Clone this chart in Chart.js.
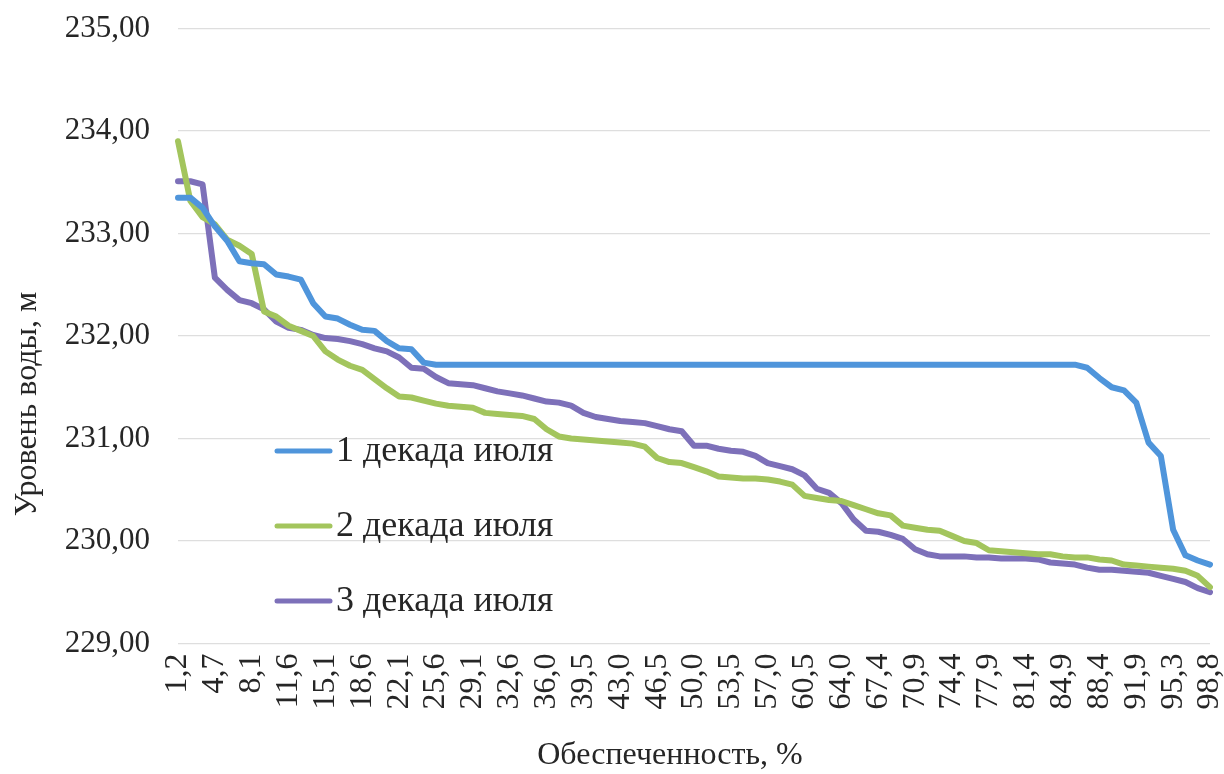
<!DOCTYPE html>
<html lang="ru">
<head>
<meta charset="utf-8">
<title>Уровень воды — кривые обеспеченности, июль</title>
<script src="https://cdn.jsdelivr.net/npm/chart.js@4.4.1/dist/chart.umd.min.js"></script>
<style>
  html, body { margin: 0; padding: 0; background: #ffffff; }
  #wrap { width: 1224px; height: 774px; }
</style>
</head>
<body>
<div id="wrap"><canvas id="chart" width="1224" height="774"></canvas></div>
<script>
// Обеспеченность, % (p = m / (n + 1) · 100, n = 85)
const categories = [
  "1,2","2,3","3,5","4,7","5,8","7,0","8,1","9,3","10,5","11,6",
  "12,8","14,0","15,1","16,3","17,4","18,6","19,8","20,9","22,1","23,3",
  "24,4","25,6","26,7","27,9","29,1","30,2","31,4","32,6","33,7","34,9",
  "36,0","37,2","38,4","39,5","40,7","41,9","43,0","44,2","45,3","46,5",
  "47,7","48,8","50,0","51,2","52,3","53,5","54,7","55,8","57,0","58,1",
  "59,3","60,5","61,6","62,8","64,0","65,1","66,3","67,4","68,6","69,8",
  "70,9","72,1","73,3","74,4","75,6","76,7","77,9","79,1","80,2","81,4",
  "82,6","83,7","84,9","86,0","87,2","88,4","89,5","90,7","91,9","93,0",
  "94,2","95,3","96,5","97,7","98,8"
];

// Уровень воды, м — 1 декада июля
const decade1 = [
  233.35,233.35,233.25,233.07,232.93,232.73,232.71,232.70,232.60,232.58,
  232.55,232.32,232.19,232.17,232.11,232.06,232.05,231.95,231.88,231.87,
  231.74,231.72,231.72,231.72,231.72,231.72,231.72,231.72,231.72,231.72,
  231.72,231.72,231.72,231.72,231.72,231.72,231.72,231.72,231.72,231.72,
  231.72,231.72,231.72,231.72,231.72,231.72,231.72,231.72,231.72,231.72,
  231.72,231.72,231.72,231.72,231.72,231.72,231.72,231.72,231.72,231.72,
  231.72,231.72,231.72,231.72,231.72,231.72,231.72,231.72,231.72,231.72,
  231.72,231.72,231.72,231.72,231.69,231.59,231.50,231.47,231.35,230.96,
  230.83,230.11,229.86,229.81,229.77
];

// Уровень воды, м — 2 декада июля
const decade2 = [
  233.90,233.32,233.16,233.09,232.94,232.88,232.80,232.24,232.19,232.10,
  232.05,232.00,231.85,231.77,231.71,231.67,231.58,231.49,231.41,231.40,
  231.37,231.34,231.32,231.31,231.30,231.25,231.24,231.23,231.22,231.19,
  231.09,231.02,231.00,230.99,230.98,230.97,230.96,230.95,230.92,230.81,
  230.77,230.76,230.72,230.68,230.63,230.62,230.61,230.61,230.60,230.58,
  230.55,230.44,230.42,230.40,230.39,230.35,230.31,230.27,230.25,230.15,
  230.13,230.11,230.10,230.05,230.00,229.98,229.91,229.90,229.89,229.88,
  229.87,229.87,229.85,229.84,229.84,229.82,229.81,229.77,229.76,229.75,
  229.74,229.73,229.71,229.66,229.55
];

// Уровень воды, м — 3 декада июля
const decade3 = [
  233.51,233.51,233.48,232.57,232.45,232.35,232.32,232.26,232.14,232.08,
  232.06,232.01,231.98,231.97,231.95,231.92,231.88,231.85,231.79,231.69,
  231.68,231.60,231.54,231.53,231.52,231.49,231.46,231.44,231.42,231.39,
  231.36,231.35,231.32,231.25,231.21,231.19,231.17,231.16,231.15,231.12,
  231.09,231.07,230.93,230.93,230.90,230.88,230.87,230.83,230.76,230.73,
  230.70,230.64,230.51,230.47,230.37,230.21,230.10,230.09,230.06,230.02,
  229.92,229.87,229.85,229.85,229.85,229.84,229.84,229.83,229.83,229.83,
  229.82,229.79,229.78,229.77,229.74,229.72,229.72,229.71,229.70,229.69,
  229.66,229.63,229.60,229.54,229.50
];

const seriesNames = ["1 декада июля", "2 декада июля", "3 декада июля"];
const yTicks = { min: 229, max: 235, step: 1 };
const axisTitles = { x: "Обеспеченность, %", y: "Уровень воды, м" };

const FONT = "'Liberation Serif', 'Times New Roman', serif";
const TEXT = "#262626";

// legend drawn inside the plot area, no frame
const innerLegend = {
  id: 'innerLegend',
  afterDatasetsDraw(chart, args, o) {
    const ctx = chart.ctx;
    ctx.save();
    ctx.font = o.fontSize + "px " + FONT;
    ctx.textBaseline = 'middle';
    ctx.textAlign = 'left';
    chart.data.datasets.forEach((ds, k) => {
      const y = o.y + k * o.gap;
      ctx.strokeStyle = ds.borderColor;
      ctx.lineWidth = o.lineWidth;
      ctx.lineCap = 'round';
      ctx.beginPath();
      ctx.moveTo(o.x, y);
      ctx.lineTo(o.x + o.len, y);
      ctx.stroke();
      ctx.fillStyle = TEXT;
      ctx.fillText(ds.label, o.x + o.len + o.textGap, y + 1);
    });
    ctx.restore();
  }
};

// axis titles placed freely on the canvas
const axisTitlePlugin = {
  id: 'axisTitlePlugin',
  afterDraw(chart, args, o) {
    const ctx = chart.ctx;
    ctx.save();
    ctx.font = o.fontSize + "px " + FONT;
    ctx.fillStyle = TEXT;
    ctx.textAlign = 'center';
    ctx.textBaseline = 'middle';
    ctx.fillText(axisTitles.x, o.xCenter, o.xMiddle);
    ctx.translate(o.yCenter, o.yMiddle);
    ctx.rotate(-Math.PI / 2);
    ctx.fillText(axisTitles.y, 0, 0);
    ctx.restore();
  }
};

const lineStyle = (color) => ({
  borderColor: color,
  backgroundColor: color,
  borderWidth: 6,
  pointRadius: 0,
  pointHoverRadius: 0,
  tension: 0,
  fill: false,
  borderJoinStyle: 'round',
  borderCapStyle: 'round'
});

new Chart(document.getElementById('chart'), {
  type: 'line',
  data: {
    labels: categories,
    datasets: [
      Object.assign({ label: seriesNames[0], data: decade1 }, lineStyle('#4f95db')),
      Object.assign({ label: seriesNames[1], data: decade2 }, lineStyle('#a3c55d')),
      Object.assign({ label: seriesNames[2], data: decade3 }, lineStyle('#7d70b9'))
    ]
  },
  options: {
    responsive: false,
    animation: false,
    events: [],
    layout: { padding: { top: 28.5, right: 14, left: 0, bottom: 0 } },
    plugins: {
      legend: { display: false },
      tooltip: { enabled: false },
      innerLegend: { x: 277, y: 451, gap: 75, len: 53, textGap: 6, lineWidth: 5, fontSize: 36 },
      axisTitlePlugin: { fontSize: 32, xCenter: 670, xMiddle: 756, yCenter: 28, yMiddle: 404 }
    },
    scales: {
      x: {
        type: 'category',
        offset: false,
        grid: { display: false, drawTicks: false },
        border: { display: false },
        ticks: {
          autoSkip: false,
          minRotation: 90,
          maxRotation: 90,
          padding: 10,
          color: TEXT,
          font: { family: FONT, size: 32, lineHeight: 1 },
          callback: function (value, index) {
            return index % 3 === 0 ? categories[index] : '';
          }
        },
        afterFit(scale) {
          scale.height = 130.5;
          scale.paddingLeft = 0; scale.paddingRight = 0;
          scale.paddingTop = 0; scale.paddingBottom = 0;
        }
      },
      y: {
        min: yTicks.min,
        max: yTicks.max,
        grid: { color: '#dedede', lineWidth: 1.2, drawTicks: false },
        border: { display: false },
        ticks: {
          stepSize: yTicks.step,
          padding: 28,
          color: TEXT,
          font: { family: FONT, size: 31, lineHeight: 1 },
          callback: (v) => v.toFixed(2).replace('.', ',')
        },
        afterFit(scale) {
          scale.width = 178;
          scale.paddingLeft = 0; scale.paddingRight = 0;
          scale.paddingTop = 0; scale.paddingBottom = 0;
        }
      }
    }
  },
  plugins: [innerLegend, axisTitlePlugin]
});
</script>
</body>
</html>
